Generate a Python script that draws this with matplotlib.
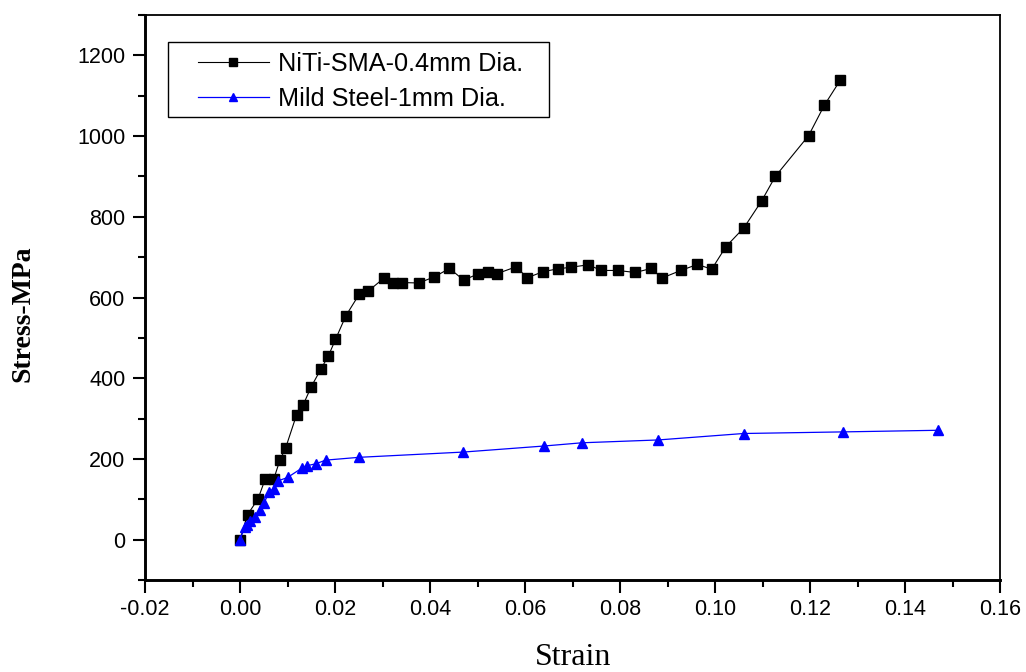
import matplotlib
matplotlib.use('Agg')
import matplotlib.pyplot as plt
from matplotlib.ticker import MultipleLocator, FormatStrFormatter
from matplotlib.patches import Rectangle

plt.rcParams['font.family'] = ['Liberation Sans', 'DejaVu Sans']
plt.rcParams['axes.unicode_minus'] = False

# NiTi SMA wire, 0.4 mm
niti_strain = [0, 0.0016, 0.0038, 0.0053, 0.0071, 0.0084, 0.0096, 0.0119, 0.0133, 0.015,
               0.017, 0.0186, 0.0201, 0.0223, 0.0251, 0.027, 0.0304, 0.0323, 0.0342, 0.0376,
               0.0409, 0.0441, 0.0471, 0.05, 0.0523, 0.0541, 0.0581, 0.0605, 0.0638, 0.0669,
               0.0697, 0.0733, 0.0761, 0.0795, 0.0832, 0.0866, 0.0888, 0.0928, 0.0963, 0.0993,
               0.1023, 0.1061, 0.1098, 0.1127, 0.1197, 0.123, 0.1264]
niti_stress = [0, 62, 101, 150, 150, 197, 227, 309, 334, 379,
               422, 455, 496, 555, 608, 616, 649, 637, 637, 636,
               651, 672, 643, 658, 663, 659, 676, 649, 664, 671,
               675, 681, 667, 667, 662, 672, 648, 667, 682, 670,
               726, 773, 839, 900, 1001, 1076, 1139]

# mild steel wire, 1 mm
ms_strain = [0, 0.001, 0.0014, 0.0022, 0.0032, 0.0043, 0.0051, 0.0062, 0.0071, 0.0081,
             0.010, 0.013, 0.014, 0.016, 0.018, 0.0251, 0.047, 0.064, 0.072, 0.088,
             0.106, 0.127, 0.147]
ms_stress = [0, 31, 37, 45, 56, 74, 92, 119, 126, 146,
             154, 177, 183, 188, 197, 204, 217, 232, 240, 247,
             263, 267, 271]

labels = ['NiTi-SMA-0.4mm Dia.', 'Mild Steel-1mm Dia.']

fig = plt.figure(figsize=(10.26, 6.72), dpi=100)
ax = fig.add_axes([145/1026, 1-580/672, 855/1026, 565/672])

ax.plot(niti_strain, niti_stress, color='k', lw=0.8, marker='s', ms=6.5,
        mec='k', mfc='k', label=labels[0])
ax.plot(ms_strain, ms_stress, color='#0000ff', lw=0.9, marker='^', ms=7.5,
        mec='#0000ff', mfc='#0000ff', label=labels[1])

ax.set_xlim(-0.02, 0.16)
ax.set_ylim(-100, 1300)
ax.xaxis.set_major_locator(MultipleLocator(0.02))
ax.xaxis.set_minor_locator(MultipleLocator(0.01))
ax.xaxis.set_major_formatter(FormatStrFormatter('%.2f'))
ax.yaxis.set_major_locator(MultipleLocator(200))
ax.yaxis.set_minor_locator(MultipleLocator(100))
ax.set_yticks(range(0, 1201, 200))

ax.tick_params(which='major', direction='out', length=9, width=1.5, labelsize=15.5, pad=5)
ax.tick_params(which='minor', direction='out', length=5, width=1.5)
ax.tick_params(top=False, right=False, which='both')

for s in ['left', 'bottom']:
    ax.spines[s].set_linewidth(2.1)
for s in ['top', 'right']:
    ax.spines[s].set_linewidth(1.3)

fig.text(23/1026, 1-314/672, 'Stress-MPa', rotation=90, ha='center', va='center',
         fontsize=20, fontweight='bold', family='Liberation Serif')
fig.text(573/1026, 1-665/672, 'Strain', ha='center', va='baseline',
         fontsize=23, family='Liberation Serif')

leg = ax.legend(loc='upper left', bbox_to_anchor=(198/1026, 1-52/672),
                bbox_transform=fig.transFigure, frameon=False, fontsize=18.2,
                handlelength=2.8, handletextpad=0.36, labelspacing=0.44,
                borderpad=0, borderaxespad=0, numpoints=1, markerscale=0.85)
fig.add_artist(Rectangle((168/1026, 1-117/672), 381/1026, 75/672,
                         transform=fig.transFigure, fill=False, ec='k', lw=1))

fig.savefig('out.png', dpi=100)
